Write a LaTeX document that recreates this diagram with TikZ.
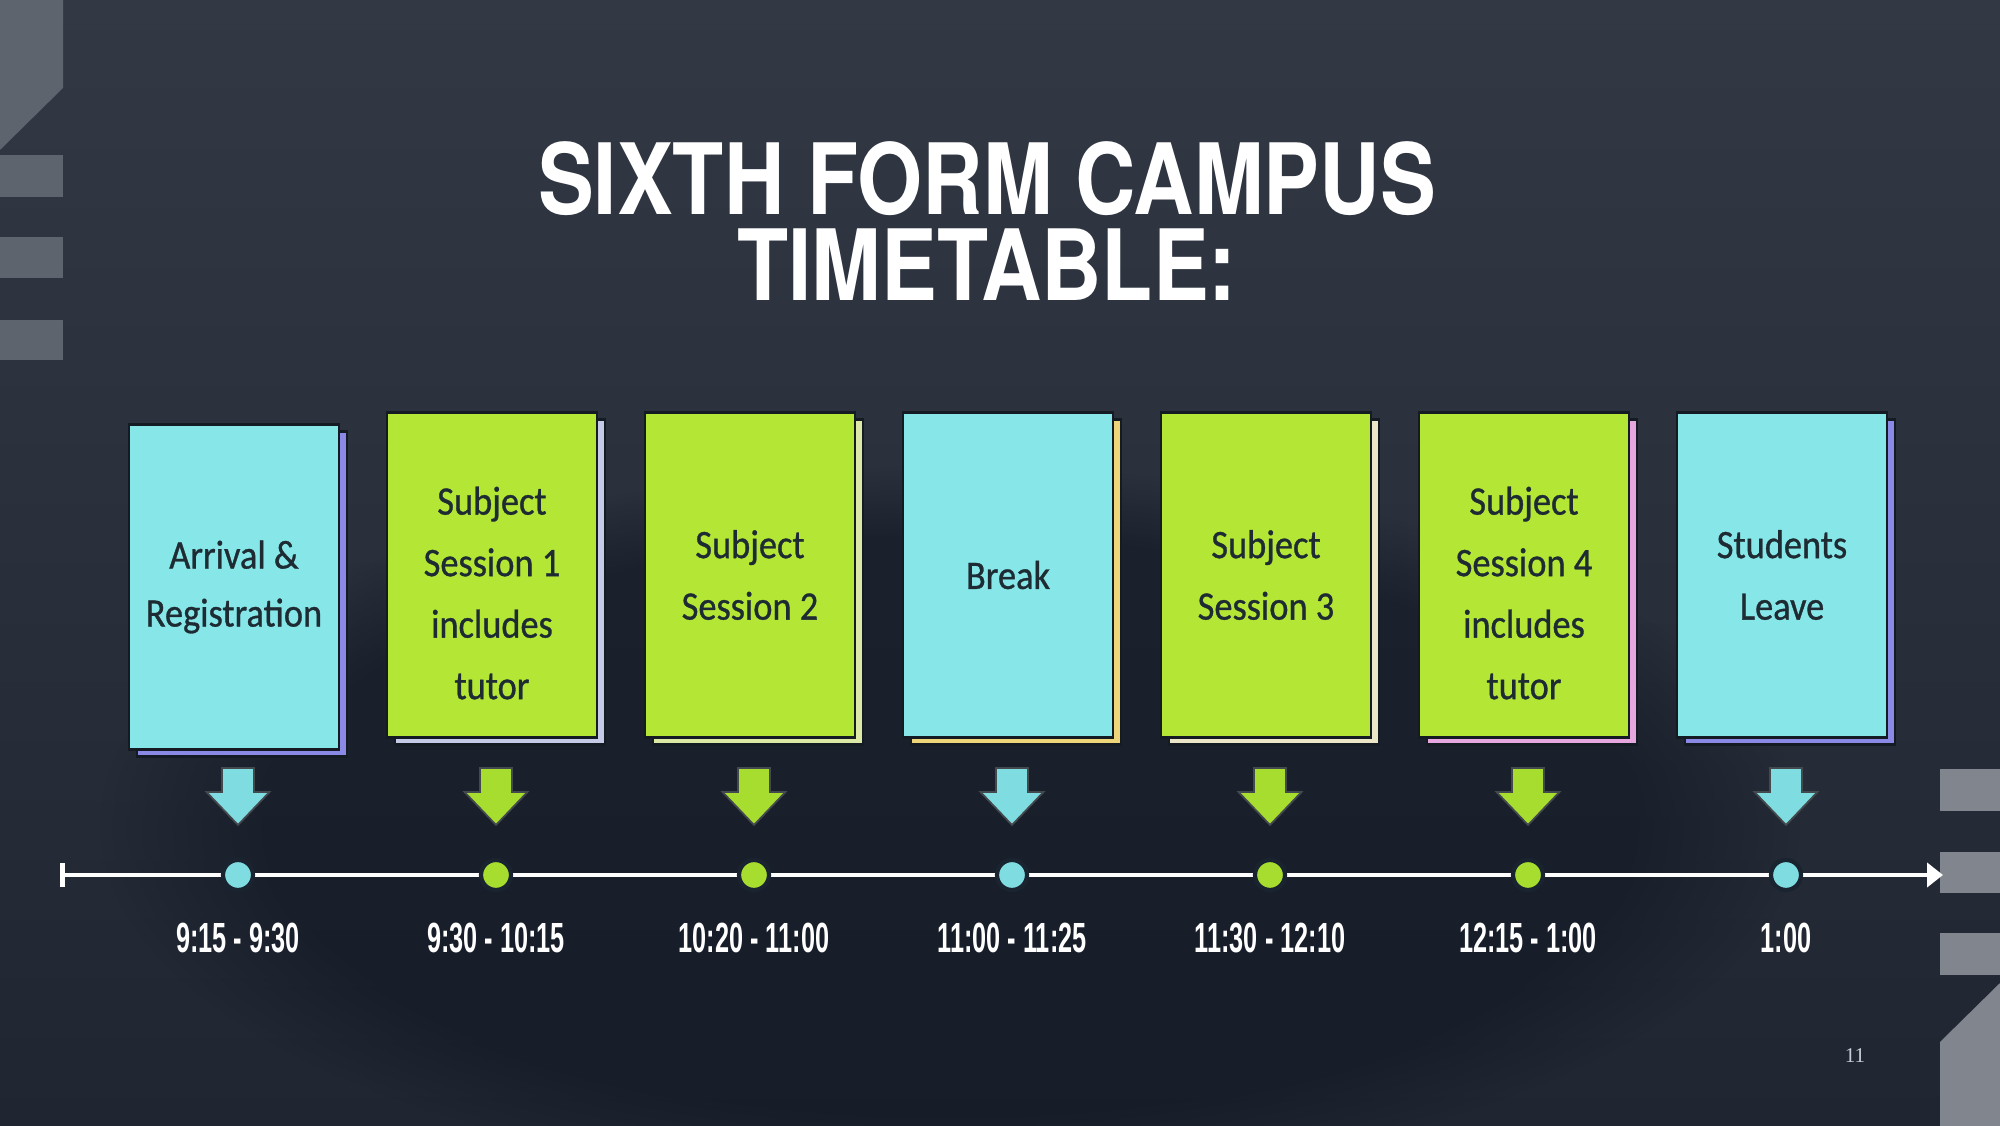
\documentclass[tikz,border=0pt]{standalone}
\usepackage{fontspec}
\newfontfamily\titlefont[FakeStretch=0.85]{TeX Gyre Heros}
\newfontfamily\notefont[FakeStretch=0.9,FakeBold=0.8]{Carlito}
\newfontfamily\timefont[FakeStretch=0.6]{Liberation Sans}
\newfontfamily\pagefont{Liberation Serif}
\usetikzlibrary{positioning,shadows,fadings,arrows.meta}

\definecolor{bgtop}{HTML}{323945}
\definecolor{bgbot}{HTML}{1F2531}
\definecolor{spot}{HTML}{121823}
\definecolor{decoL}{HTML}{5E646E}
\definecolor{decoR}{HTML}{80858E}
\definecolor{cyanbox}{HTML}{86E6E8}
\definecolor{greenbox}{HTML}{B4E636}
\definecolor{cyanmark}{HTML}{7FDDE2}
\definecolor{greenmark}{HTML}{A6DD2E}
\definecolor{ink}{HTML}{1E2B33}
\definecolor{edge}{HTML}{151B22}
\definecolor{dotedge}{HTML}{1A2330}
\definecolor{shpurple}{HTML}{8A8AE6}
\definecolor{shlilac}{HTML}{C5CBE6}
\definecolor{shlime}{HTML}{DCE8A6}
\definecolor{shyellow}{HTML}{EFD57A}
\definecolor{shcream}{HTML}{ECE6C8}
\definecolor{shpink}{HTML}{E6A6E0}
\definecolor{pagegray}{HTML}{C8CCD4}

\begin{document}
\begin{tikzpicture}[every node/.style={inner sep=0pt},
  notebox/.style={draw=edge, line width=0.7pt, minimum width=2.10cm, minimum height=3.25cm,
    align=center, text=ink, font=\notefont\fontsize{11.5}{17.5}\selectfont},
  notetext/.style={align=center, text=ink, font=\notefont\fontsize{11.5}{17.5}\selectfont},
  sheet/.style={general shadow={fill=#1, draw=edge, line width=0.7pt, shadow xshift=0.08cm, shadow yshift=-0.07cm}},
  titletext/.style={text=white, align=center, font=\titlefont\bfseries\fontsize{28}{24.4}\selectfont},
  dotmark/.style={circle, draw=dotedge, line width=1.2pt, minimum size=0.30cm},
  timelabel/.style={text=white, font=\timefont\bfseries\fontsize{12}{14}\selectfont}]

  % Background
  \useasboundingbox (0,0) rectangle (20,11.26);
  \shade[top color=bgtop, bottom color=bgbot] (0,0) rectangle (20,11.26);
  \fill[spot, opacity=0.6, path fading=circle with fuzzy edge 20 percent] (9.5,3.0) ellipse (8.5 and 3.6);

  % Side decorations
  \fill[decoL] (0,11.26) -- (0.63,11.26) -- (0.63,10.38) -- (0,9.76) -- cycle;
  \fill[decoL] (0,9.71) rectangle (0.63,9.29);
  \fill[decoL] (0,8.89) rectangle (0.63,8.48);
  \fill[decoL] (0,8.06) rectangle (0.63,7.66);
  \fill[decoR] (19.40,3.57) rectangle (20,3.15);
  \fill[decoR] (19.40,2.74) rectangle (20,2.33);
  \fill[decoR] (19.40,1.93) rectangle (20,1.51);
  \fill[decoR] (20,1.43) -- (19.40,0.84) -- (19.40,0) -- (20,0) -- cycle;

  % Title
  \node[titletext, anchor=north] (title) at (9.87,9.85) {SIXTH FORM CAMPUS\\TIMETABLE:};

  % Notes
  \node[notebox, fill=cyanbox, sheet=shpurple] (b1) at (2.34,5.39) {Arrival \&\\[-1pt]Registration};
  \node[notebox, fill=greenbox, sheet=shlilac] (b2) at (4.92,5.51) {};
  \node[notetext] (b2text) at ([yshift=-0.18cm]b2.center) {Subject\\Session 1\\includes\\tutor};
  \node[notebox, fill=greenbox, sheet=shlime] (b3) at (7.50,5.51) {Subject\\Session 2};
  \node[notebox, fill=cyanbox, sheet=shyellow] (b4) at (10.08,5.51) {Break};
  \node[notebox, fill=greenbox, sheet=shcream] (b5) at (12.66,5.51) {Subject\\Session 3};
  \node[notebox, fill=greenbox, sheet=shpink] (b6) at (15.24,5.51) {};
  \node[notetext] (b6text) at ([yshift=-0.18cm]b6.center) {Subject\\Session 4\\includes\\tutor};
  \node[notebox, fill=cyanbox, sheet=shpurple] (b7) at (17.82,5.51) {Students\\Leave};

  % Timeline
  \coordinate (tstart) at (0.60,2.51);
  \coordinate (tend) at (19.43,2.51);
  \draw[white, line width=1.4pt, {Bar[width=2.4mm]}-{Triangle[length=1.6mm,width=2.4mm]}] (tstart) -- (tend);

  % Arrows and dots
  \foreach \x/\c [count=\i] in {2.38/cyanmark, 4.96/greenmark, 7.54/greenmark, 10.12/cyanmark, 12.70/greenmark, 15.28/greenmark, 17.86/cyanmark} {
    \filldraw[fill=\c, draw=edge!80, line width=0.5pt] (\x-0.16,3.58) -- (\x+0.16,3.58) -- (\x+0.16,3.34) -- (\x+0.315,3.34) -- (\x,3.01) -- (\x-0.315,3.34) -- (\x-0.16,3.34) -- cycle;
    \node[dotmark, fill=\c] (d\i) at (\x,2.51) {};
  }

  % Times
  \node[timelabel, below=0.30cm of d1] (t1) {9:15 - 9:30};
  \node[timelabel, below=0.30cm of d2] (t2) {9:30 - 10:15};
  \node[timelabel, below=0.30cm of d3] (t3) {10:20 - 11:00};
  \node[timelabel, below=0.30cm of d4] (t4) {11:00 - 11:25};
  \node[timelabel, below=0.30cm of d5] (t5) {11:30 - 12:10};
  \node[timelabel, below=0.30cm of d6] (t6) {12:15 - 1:00};
  \node[timelabel, below=0.30cm of d7] (t7) {1:00};

  % Page number
  \node[text=pagegray, font=\pagefont\fontsize{6}{7}\selectfont] (pgno) at (18.55,0.70) {11};
\end{tikzpicture}
\end{document}
